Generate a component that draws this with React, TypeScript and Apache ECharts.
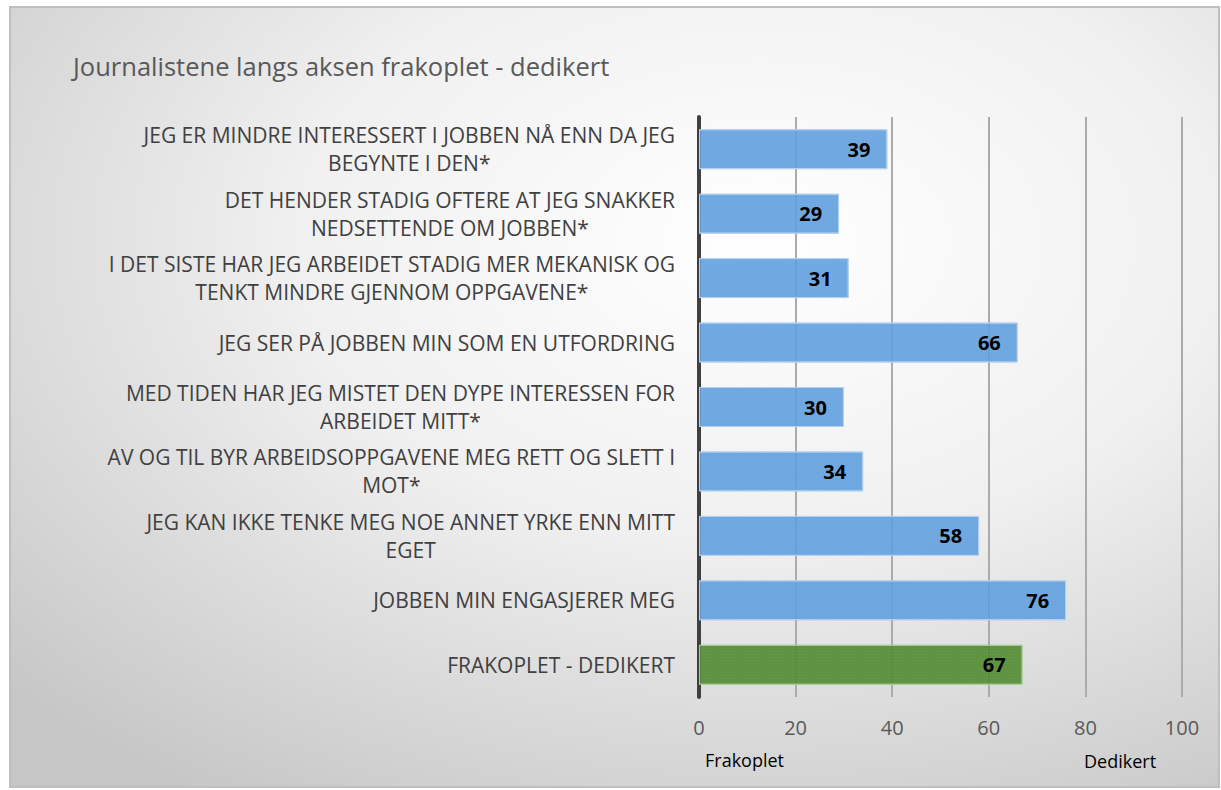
import React, { useEffect, useRef } from "react";
import * as echarts from "echarts";

const categories: string[] = [
  "JEG ER MINDRE INTERESSERT I JOBBEN NÅ ENN DA JEG\nBEGYNTE I DEN*",
  "DET HENDER STADIG OFTERE AT JEG SNAKKER\nNEDSETTENDE OM JOBBEN*",
  "I DET SISTE HAR JEG ARBEIDET STADIG MER MEKANISK OG\nTENKT MINDRE GJENNOM OPPGAVENE*",
  "JEG SER PÅ JOBBEN MIN SOM EN UTFORDRING",
  "MED TIDEN HAR JEG MISTET DEN DYPE INTERESSEN FOR\nARBEIDET MITT*",
  "AV OG TIL BYR ARBEIDSOPPGAVENE MEG RETT OG SLETT I\nMOT*",
  "JEG KAN IKKE TENKE MEG NOE ANNET YRKE ENN MITT\nEGET",
  "JOBBEN MIN ENGASJERER MEG",
  "FRAKOPLET - DEDIKERT",
];
const values: number[] = [39, 29, 31, 66, 30, 34, 58, 76, 67];
const highlighted: boolean[] = [false, false, false, false, false, false, false, false, true];
const xTicks = { min: 0, max: 100, interval: 20 };
const title = "Journalistene langs aksen frakoplet - dedikert";
const leftNote = "Frakoplet";
const rightNote = "Dedikert";

export default function App() {
  const ref = useRef<HTMLDivElement>(null);
  useEffect(() => {
    if (!ref.current) return;
    const chart = echarts.init(ref.current, undefined, { renderer: "svg" });
    const font = "'Open Sans', 'Noto Sans', sans-serif";
    const decal = {
      symbol: "rect",
      symbolSize: 0.5,
      dashArrayX: [1, 2],
      dashArrayY: [1, 2],
      color: "rgba(255,255,255,0.18)",
    };
    chart.setOption({
      animation: false,
      backgroundColor: "#ffffff",
      graphic: [
        {
          type: "rect",
          z: -10,
          silent: true,
          shape: { x: 10, y: 7, width: 1209, height: 780 },
          style: {
            fill: new echarts.graphic.RadialGradient(0.62, 0.3, 0.85, [
              { offset: 0, color: "#ffffff" },
              { offset: 0.45, color: "#f0f0f0" },
              { offset: 1, color: "#c6c6c6" },
            ]),
            stroke: "#bfbfbf",
            lineWidth: 2,
          },
        },
        {
          type: "text",
          left: 705,
          top: 751,
          style: { text: leftNote, fontFamily: font, fontSize: 18, fill: "#000000" },
        },
        {
          type: "text",
          left: 1084,
          top: 752,
          style: { text: rightNote, fontFamily: font, fontSize: 18, fill: "#000000" },
        },
      ],
      title: {
        text: title,
        left: 68,
        top: 48,
        textStyle: { fontFamily: font, fontSize: 25.5, fontWeight: "normal", color: "#595959" },
      },
      grid: { left: 699, right: 39, top: 117, bottom: 93, containLabel: false },
      xAxis: {
        type: "value",
        min: xTicks.min,
        max: xTicks.max,
        interval: xTicks.interval,
        axisLine: { show: false },
        axisTick: { show: false },
        splitLine: { show: true, lineStyle: { color: "#ababab", width: 2 } },
        axisLabel: { fontFamily: font, fontSize: 20, color: "#595959", margin: 20 },
      },
      yAxis: {
        type: "category",
        data: categories,
        inverse: true,
        axisLine: { show: true, lineStyle: { color: "#404040", width: 4 } },
        axisTick: { show: false },
        axisLabel: {
          fontFamily: font,
          fontSize: 21,
          color: "#404040",
          margin: 24,
          lineHeight: 28,
          align: "right",
          formatter: (v: string) =>
            v
              .split("\n")
              .map((l) => `{c|${l}}`)
              .join("\n"),
          rich: {
            c: {
              align: "center",
              fontFamily: font,
              fontSize: 21,
              color: "#404040",
              lineHeight: 28,
            },
          },
        },
      },
      series: [
        {
          type: "bar",
          data: values.map((v, i) => ({
            value: v,
            itemStyle: highlighted[i]
              ? {
                  color: "rgba(84,140,52,0.92)",
                  borderColor: "#a9c99a",
                  borderWidth: 1,
                  decal,
                }
              : {
                  color: "rgba(96,160,222,0.9)",
                  borderColor: "#b4d0ee",
                  borderWidth: 1,
                  decal,
                },
          })),
          barCategoryGap: "38%",
          label: {
            show: true,
            position: "insideRight",
            distance: 17,
            fontFamily: font,
            fontSize: 20,
            fontWeight: "bold",
            color: "#000000",
          },
        },
      ],
    });
    return () => chart.dispose();
  }, []);
  return (
    <div style={{ position: "fixed", left: 0, top: 0, width: 1221, height: 790, background: "#fff" }}>
      <div ref={ref} style={{ width: 1221, height: 790 }} />
    </div>
  );
}
